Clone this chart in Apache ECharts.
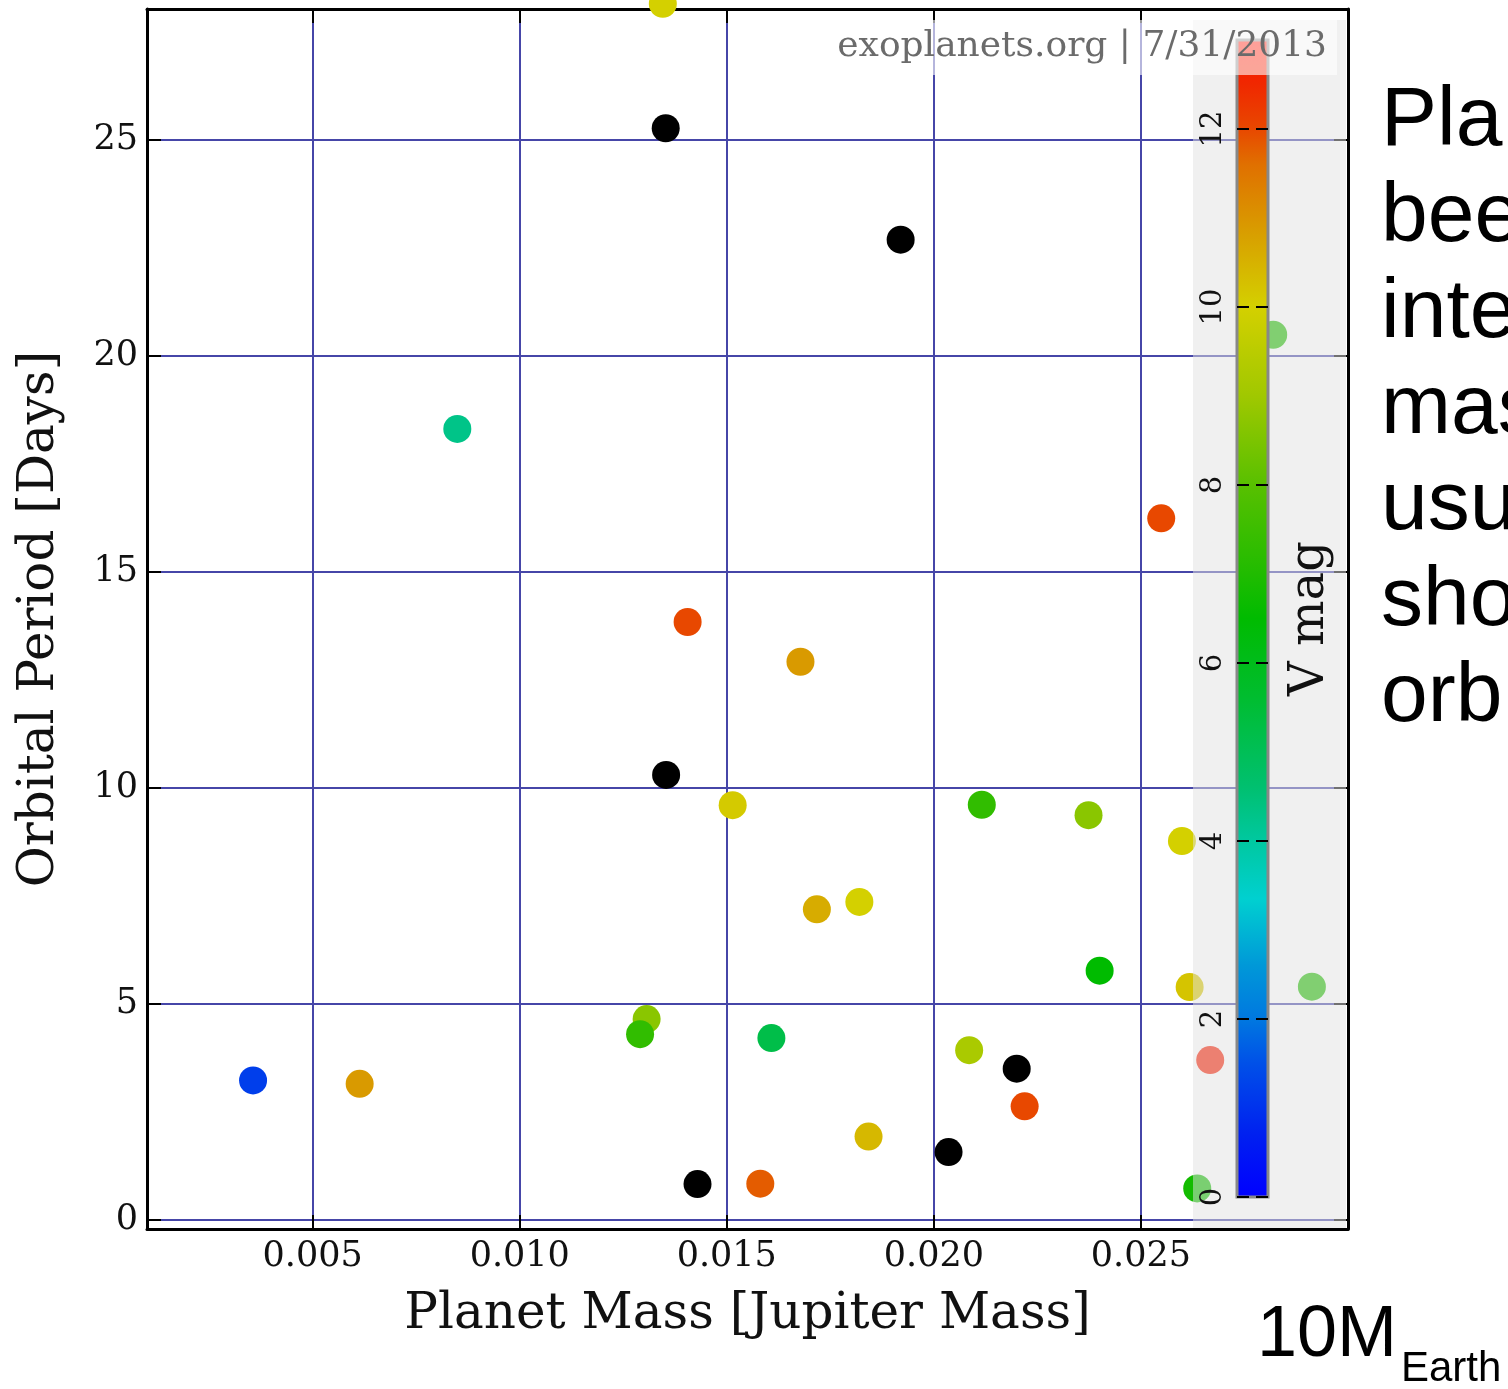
<!DOCTYPE html>
<html><head><meta charset="utf-8">
<script src="https://cdn.jsdelivr.net/npm/echarts@6/dist/echarts.min.js"></script>
<style>html,body{margin:0;padding:0;background:#fff}#c{width:1508px;height:1389px}#err{position:absolute;left:0;top:0;font:14px monospace;white-space:pre;color:#c00;z-index:99}</style>
</head><body><div id="c"></div><div id="err"></div><script>
// ---- data ----
const mass   = [0.013455,0.008493,0.003561,0.006135,0.014054,0.016779,0.015142,0.021157,0.023735,0.025990,0.017175,0.018201,0.024003,0.026176,0.013064,0.012906,0.016077,0.020852,0.022192,0.018423,0.015809,0.026359,0.028194,0.029128,0.026673,0.025490];
const period = [28.15,18.31,3.23,3.15,13.84,12.92,9.60,9.61,9.37,8.77,7.19,7.36,5.77,5.39,4.65,4.30,4.21,3.93,2.63,1.93,0.84,0.73,20.49,5.40,3.70,16.24];
const vmag   = [10.0,4.3,1.2,10.9,12.0,10.9,10.1,7.3,8.7,10.0,10.6,10.0,6.5,10.2,8.7,7.3,5.2,9.2,12.0,10.4,11.8,6.8,7.0,7.0,12.7,12.0];
// planets without a V magnitude (drawn black)
const blackMass   = [0.013525,0.019198,0.013535,0.022000,0.020355,0.014293];
const blackPeriod = [25.27,22.69,10.30,3.50,1.57,0.83];
const xTicks  = [0.005,0.010,0.015,0.020,0.025];
const yTicks  = [0,5,10,15,20,25];
const cbTicks = [0,2,4,6,8,10,12];
const cmapValues = [0,0.7,1.5,2.0,2.6,3.35,4.0,4.6,5.6,6.5,7.0,8.0,9.0,10.0,10.8,11.6,12.0,12.5,13.0];
const cmapColors = ['#0000ff','#0020f0','#0050e8','#0078e0','#0098d8','#00d0d0','#00c8a0','#00c070','#00bd30','#00bb00','#20bc00','#58c000','#a0c800','#d4d000','#d8a000','#e07000','#e84800','#f02800','#ff1000'];
const sideLines = ['Pla','bee','inte','mas','usu','sho','orb'];

window.onerror=function(m,s,l,c,e){document.getElementById('err').textContent+=(e&&e.stack?e.stack:m)+'\n';};

// ---- helpers ----
function h2r(h){return [parseInt(h.substr(1,2),16),parseInt(h.substr(3,2),16),parseInt(h.substr(5,2),16)];}
function r2h(c){return '#'+c.map(v=>Math.round(v).toString(16).padStart(2,'0')).join('');}
function cmap(v){
  for(let i=0;i<cmapValues.length-1;i++){
    if(v<=cmapValues[i+1]){
      const t=(v-cmapValues[i])/(cmapValues[i+1]-cmapValues[i]);
      const a=h2r(cmapColors[i]),b=h2r(cmapColors[i+1]);
      return r2h(a.map((x,k)=>x+(b[k]-x)*t));
    }
  }
  return cmapColors[cmapColors.length-1];
}
const VMIN=0,VMAX=13;
const sampled=[];for(let v=VMIN;v<=VMAX+1e-9;v+=0.25)sampled.push(cmap(v));
const gradStops=cmapValues.map((v,i)=>({offset:(v-VMIN)/(VMAX-VMIN),color:cmapColors[i]}));

const serif='DejaVu Serif';
try{
const chart=echarts.init(document.getElementById('c'),null,{renderer:'canvas'});
function tk(vals,len){return {show:true,customValues:vals,inside:true,length:len,lineStyle:{color:'#000',width:2}};}
chart.setOption({
  animation:false,
  backgroundColor:'#fff',
  grid:[
    {left:147,right:160,top:9,bottom:160,show:false},
    {left:1237,top:40,width:31,height:1157,show:true,borderColor:'#888',borderWidth:3,backgroundColor:'transparent',z:12}
  ],
  visualMap:[{type:'continuous',show:false,min:VMIN,max:VMAX,dimension:2,seriesIndex:0,inRange:{color:sampled}}],
  xAxis:[
    {type:'value',gridIndex:0,min:0.001,max:0.030,position:'bottom',
     axisLine:{show:true,onZero:false,lineStyle:{color:'#000',width:3}},
     axisTick:tk(xTicks,14),
     axisLabel:{customValues:xTicks,formatter:v=>v.toFixed(3),fontFamily:serif,fontSize:35,color:'#111',margin:10},
     splitLine:{show:true,lineStyle:{color:'#4646a8',width:2}},
     name:'Planet Mass [Jupiter Mass]',nameLocation:'middle',nameGap:61,
     nameTextStyle:{fontFamily:serif,fontSize:50,color:'#111'}},
    {type:'value',gridIndex:0,min:0.001,max:0.030,position:'top',
     axisLine:{show:true,onZero:false,lineStyle:{color:'#000',width:3}},
     axisTick:tk(xTicks,14),
     axisLabel:{show:false},splitLine:{show:false}},
    {type:'category',gridIndex:1,data:['c'],position:'bottom',
     axisLine:{show:false},axisTick:{show:false},axisLabel:{show:false},splitLine:{show:false}}
  ],
  yAxis:[
    {type:'value',gridIndex:0,min:-0.21,max:28.03,position:'left',
     axisLine:{show:true,onZero:false,lineStyle:{color:'#000',width:3}},
     axisTick:tk(yTicks,14),
     axisLabel:{customValues:yTicks,fontFamily:serif,fontSize:35,color:'#111',margin:9},
     splitLine:{show:true,lineStyle:{color:'#4646a8',width:2}},
     name:'Orbital Period [Days]',nameLocation:'middle',nameGap:82,nameRotate:90,
     nameTextStyle:{fontFamily:serif,fontSize:50,color:'#111'}},
    {type:'value',gridIndex:0,min:-0.21,max:28.03,position:'right',
     axisLine:{show:true,onZero:false,lineStyle:{color:'#000',width:3}},
     axisTick:tk(yTicks,14),
     axisLabel:{show:false},splitLine:{show:false}},
    {type:'value',gridIndex:1,min:VMIN,max:VMAX,position:'left',z:12,
     axisLine:{show:false},
     axisTick:tk(cbTicks,12),
     axisLabel:{customValues:cbTicks,rotate:90,fontFamily:serif,fontSize:29,color:'#111',margin:9},
     splitLine:{show:false}},
    {type:'value',gridIndex:1,min:VMIN,max:VMAX,position:'right',z:12,
     axisLine:{show:false},
     axisTick:tk(cbTicks,12),
     axisLabel:{show:false},splitLine:{show:false},
     name:'V mag',nameLocation:'middle',nameRotate:90,nameGap:19,
     nameTextStyle:{fontFamily:serif,fontSize:48,color:'#111'}}
  ],
  series:[
    {type:'scatter',xAxisIndex:0,yAxisIndex:0,symbolSize:28,clip:false,z:2,
     itemStyle:{opacity:1},
     data:mass.map((m,i)=>[m,period[i],vmag[i]])},
    {type:'scatter',xAxisIndex:0,yAxisIndex:0,symbolSize:28,clip:false,z:2,
     itemStyle:{color:'#000',opacity:1},
     data:blackMass.map((m,i)=>[m,blackPeriod[i]])},
    {type:'bar',xAxisIndex:2,yAxisIndex:2,barWidth:'100%',z:8,silent:true,
     itemStyle:{color:new echarts.graphic.LinearGradient(0,1,0,0,gradStops),opacity:1},
     data:[VMAX]}
  ],
  graphic:{elements:[
    {type:'rect',z:5,silent:true,shape:{x:1193,y:20,width:153,height:1208},style:{fill:'rgba(225,225,225,0.5)'}},
    {type:'rect',z:20,silent:true,shape:{x:828,y:20,width:509,height:55},style:{fill:'rgba(255,255,255,0.6)'}},
    {type:'text',z:21,silent:true,x:1327,y:47,style:{text:'exoplanets.org | 7/31/2013',fill:'#6b6b6b',font:'36px "DejaVu Serif"',textAlign:'right',textVerticalAlign:'middle'}},
    {type:'text',z:21,silent:true,x:1381,y:74,style:{text:sideLines.join('\n'),fill:'#000',font:'84px "Liberation Sans", Arial',lineHeight:96,textAlign:'left',textVerticalAlign:'top'}},
    {type:'text',z:21,silent:true,x:1257,y:1336,style:{text:'10M',fill:'#000',font:'72px "Liberation Sans", Arial',textAlign:'left',textVerticalAlign:'middle'}},
    {type:'text',z:21,silent:true,x:1401,y:1369,style:{text:'Earth',fill:'#000',font:'42px "Liberation Sans", Arial',textAlign:'left',textVerticalAlign:'middle'}}
  ]}
});
}catch(e){document.getElementById('err').textContent+=e.stack;}
</script></body></html>
